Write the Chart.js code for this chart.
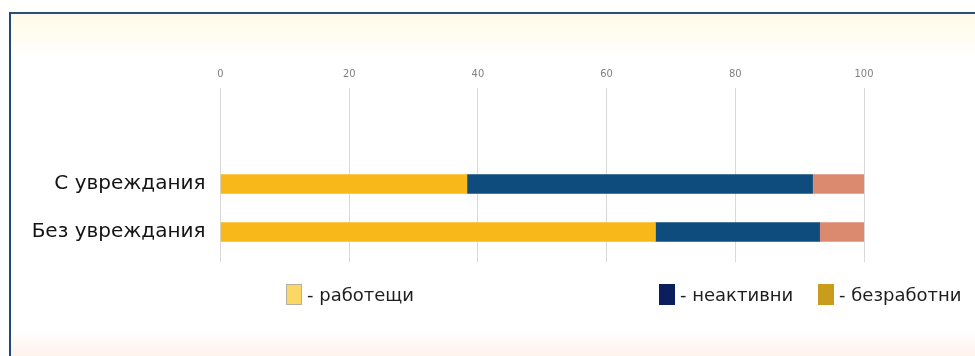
<!DOCTYPE html>
<html lang="bg">
<head>
<meta charset="utf-8">
<script src="https://cdn.jsdelivr.net/npm/chart.js@4.4.1/dist/chart.umd.min.js"></script>
<style>
    html, body { margin: 0; padding: 0; background: #fff; }
    #wrap { position: relative; width: 975px; height: 356px; overflow: hidden; background: #fff; }
    #frame {
        position: absolute; left: 9px; top: 12px; right: -4px; bottom: -4px;
        border-left: 2px solid #24477a; border-top: 2px solid #2b4c7e;
        background: linear-gradient(to bottom, #fffbea 0px, #fffdf4 28px, #ffffff 40px, #ffffff 318px, #fff8f4 330px, #fff1ea 100%);
    }
    #chart { position: absolute; left: 0; top: 0; }
    .legend-item { position: absolute; display: flex; align-items: center; font-family: "DejaVu Sans", sans-serif; font-size: 18px; color: #1e1e1e; }
    .legend-box { width: 16px; height: 21px; margin-right: 5px; box-sizing: border-box; }
</style>
</head>
<body>
<div id="wrap">
    <div id="frame"></div>
    <canvas id="chart" width="975" height="356"></canvas>
</div>
<script>
// Категории и стойности (%)
const categories = ['С увреждания', 'Без увреждания'];
const seriesNames = ['работещи', 'неактивни', 'безработни'];
const working = [38.3, 67.6];
const inactive = [53.7, 25.5];
const unemployed = [8.0, 6.9];
const xTicks = [0, 20, 40, 60, 80, 100];

// цветове на лентите и на легендата
const barColors = ['#f8b81a', '#0d4c7d', '#dc8a6f'];
const legendColors = ['#fbd866', '#0b1f5e', '#c99c1c'];
const legendLeft = [286, 659, 818];

function toPoints(values) {
    return values.map((v, i) => ({ x: v, y: i }));
}

const ctx = document.getElementById('chart').getContext('2d');
new Chart(ctx, {
    type: 'bar',
    data: {
        datasets: [working, inactive, unemployed].map((vals, i) => ({
            label: seriesNames[i],
            data: toPoints(vals),
            backgroundColor: barColors[i],
            borderWidth: 0,
            barThickness: 19
        }))
    },
    options: {
        indexAxis: 'y',
        responsive: false,
        animation: false,
        layout: {
            padding: { left: 0, top: 0, right: 111, bottom: 94 }
        },
        plugins: {
            legend: { display: false },
            tooltip: { enabled: false }
        },
        scales: {
            x: {
                position: 'top',
                stacked: true,
                min: 0,
                max: 100,
                afterBuildTicks: (scale) => {
                    scale.ticks = xTicks.map(v => ({ value: v }));
                },
                afterFit: (scale) => { scale.height = 88; },
                grid: { color: '#d9d9d9', lineWidth: 1, drawTicks: false },
                border: { display: false },
                ticks: {
                    padding: 7,
                    color: '#808080',
                    font: { family: '"Liberation Sans Narrow", "DejaVu Sans Condensed", sans-serif', size: 11 }
                }
            },
            y: {
                type: 'linear',
                stacked: true,
                reverse: true,
                offset: false,
                min: -2.0,
                max: 1.625,
                afterBuildTicks: (scale) => {
                    scale.ticks = categories.map((c, i) => ({ value: i }));
                },
                afterFit: (scale) => { scale.width = 220.5; },
                grid: { display: false, drawTicks: false },
                border: { display: false },
                ticks: {
                    padding: 15,
                    color: '#141414',
                    font: { family: '"DejaVu Sans", sans-serif', size: 20 },
                    callback: (value) => categories[value]
                }
            }
        }
    }
});

// легенда
const wrap = document.getElementById('wrap');
seriesNames.forEach((name, i) => {
    const item = document.createElement('div');
    item.className = 'legend-item';
    item.style.left = legendLeft[i] + 'px';
    item.style.top = '284px';
    const box = document.createElement('span');
    box.className = 'legend-box';
    box.style.background = legendColors[i];
    if (i === 0) box.style.border = '1px solid #b5b0a0';
    const text = document.createElement('span');
    text.textContent = '- ' + name;
    item.appendChild(box);
    item.appendChild(text);
    wrap.appendChild(item);
});
</script>
</body>
</html>
